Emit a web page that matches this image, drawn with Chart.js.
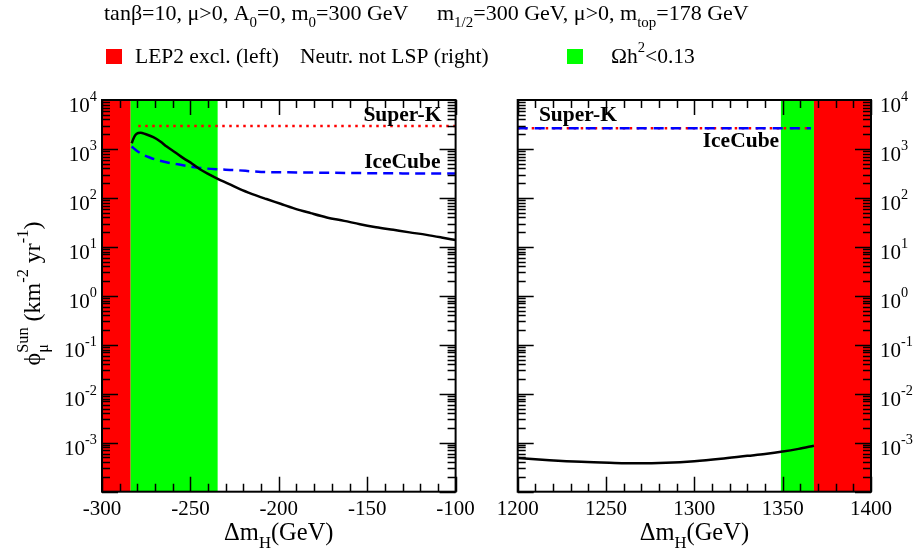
<!DOCTYPE html>
<html><head><meta charset="utf-8">
<script src="https://cdn.jsdelivr.net/npm/chart.js@4/dist/chart.umd.min.js"></script>
<style>
html,body{margin:0;padding:0;background:#fff;width:914px;height:557px;overflow:hidden;}
#wrap{position:relative;width:914px;height:557px;}
canvas{position:absolute;left:0;top:0;}
</style></head>
<body><div id="wrap"><canvas id="cl" width="914" height="557"></canvas><canvas id="cr" width="914" height="557"></canvas></div>
<script>
// ---------- data ----------
const leftDeltaM   = [-283.2, -282.3, -281, -279.5, -278.1, -275.5, -271.0, -267, -263.4, -258.5, -254.0, -249, -244.6, -240, -235.1, -228, -222.0, -215, -207, -199, -191.8, -182, -172.9, -163, -154.1, -145, -135.2, -126, -116.4, -108, -100];
const leftFlux     = [1306, 1600, 1950, 2120, 2150, 2020, 1740, 1420, 1120, 850, 650, 500, 385, 310, 252, 192, 151, 120, 95, 76, 62, 49, 40, 34, 29, 25.3, 22.3, 19.8, 17.6, 15.6, 13.8];
const leftIceX     = [-283.2, -280, -276.6, -273, -269, -263, -257.7, -251, -244.6, -235, -225.7, -210, -190, -170, -150, -130, -100];
const leftIceFlux  = [1120, 900, 760, 670, 597, 530, 490, 445, 410, 385, 372, 340, 332, 326, 321, 317, 314];
const leftSKX      = [-279.5, -100];
const leftSKFlux   = [2950, 2950];
const rightDeltaM  = [1200, 1218, 1236, 1252, 1268, 1284, 1300, 1315, 1330, 1340, 1350, 1359, 1367.7];
const rightFlux    = [4.87e-4, 4.4e-4, 4.07e-4, 3.9e-4, 3.8e-4, 3.9e-4, 4.2e-4, 4.7e-4, 5.4e-4, 5.9e-4, 6.6e-4, 7.5e-4, 8.7e-4];
const rightLimX    = [1200, 1366];
const rightSKFlux  = [2650, 2650];
const rightIceFlux = [2650, 2650];
const leftLEP2     = [-300, -283.8];
const leftOmega    = [-283.8, -234.6];
const rightOmega   = [1349, 1367.7];
const rightNotLSP  = [1367.7, 1400];
const leftXTicks   = [-300, -250, -200, -150, -100];
const rightXTicks  = [1200, 1250, 1300, 1350, 1400];
const yTickExps    = [-3, -2, -1, 0, 1, 2, 3, 4];

// ---------- drawing helpers ----------
const FAM = "'Liberation Serif','Times New Roman',serif";
function rich(ctx, x, y, segs, align, size, weight, supK) {
  const small = size * 0.68, sk = supK || 0.45;
  let w = 0, prevStart = 0, prevW = 0; const items = [];
  for (const [t, k] of segs) {
    const fs = k === 0 ? size : small;
    ctx.font = (weight || '') + ' ' + fs + 'px ' + FAM;
    const tw = ctx.measureText(t).width;
    let dx, dy = k === 1 ? size * 0.32 : (k >= 2 ? -size * sk : 0);
    if (k === 3) { dx = prevStart; w = prevStart + Math.max(prevW, tw); }
    else { dx = w; w += tw; }
    items.push({ t, fs, dx, dy }); prevStart = dx; prevW = tw;
  }
  const x0 = align === 'right' ? x - w : align === 'center' ? x - w / 2 : x;
  ctx.textAlign = 'left'; ctx.textBaseline = 'alphabetic';
  for (const it of items) { ctx.font = (weight || '') + ' ' + it.fs + 'px ' + FAM; ctx.fillText(it.t, x0 + it.dx, y + it.dy); }
  return w;
}
function pts(xs, ys) { return xs.map((x, i) => ({ x, y: ys[i] })); }

function framePlugin(c) {
  return {
    id: 'frame' + c.id,
    beforeDatasetsDraw(chart) {
      const { ctx, chartArea: a, scales: { x } } = chart;
      ctx.save();
      for (const b of c.bands) {
        const x0 = x.getPixelForValue(b.range[0]), x1 = x.getPixelForValue(b.range[1]);
        ctx.fillStyle = b.color; ctx.fillRect(x0, a.top, x1 - x0, a.bottom - a.top);
      }
      ctx.restore();
    },
    afterDatasetsDraw(chart) {
      const { ctx, chartArea: a, scales: { x, y } } = chart;
      ctx.save();
      ctx.strokeStyle = '#000'; ctx.fillStyle = '#000'; ctx.lineWidth = 1.5;
      ctx.beginPath();
      for (let v = c.xmin; v <= c.xmax + 1e-6; v += 10) {
        const px = Math.round(x.getPixelForValue(v)) + 0.5;
        const L = (Math.round(v) % 50 === 0) ? 15 : 8;
        ctx.moveTo(px, a.bottom); ctx.lineTo(px, a.bottom - L);
        ctx.moveTo(px, a.top); ctx.lineTo(px, a.top + L);
      }
      for (let e = -4; e <= 3; e++) {
        for (let m = 1; m <= 9; m++) {
          const py = Math.round(y.getPixelForValue(m * Math.pow(10, e))) + 0.5;
          const L = m === 1 ? 16 : 8;
          ctx.moveTo(a.left, py); ctx.lineTo(a.left + L, py);
          ctx.moveTo(a.right, py); ctx.lineTo(a.right - L, py);
        }
      }
      ctx.stroke();
      ctx.lineWidth = 2;
      ctx.strokeRect(a.left, a.top, a.right - a.left, a.bottom - a.top);
      for (const v of c.xTicks) {
        ctx.font = '21px ' + FAM; ctx.textAlign = 'center'; ctx.textBaseline = 'alphabetic';
        ctx.fillText(String(v), x.getPixelForValue(v), a.bottom + 23);
      }
      for (const e of yTickExps) {
        const py = y.getPixelForValue(Math.pow(10, e));
        if (c.labelSide === 'left') rich(ctx, a.left - 5, py + 12, [['10', 0], [String(e), 2]], 'right', 21, '', 0.52);
        else rich(ctx, a.right + 9, py + 12, [['10', 0], [String(e), 2]], 'left', 21, '', 0.52);
      }
      rich(ctx, (a.left + a.right) / 2, 540, [['\u0394m', 0], ['H', 1], ['(GeV)', 0]], 'center', 24.5);
      for (const t of c.notes) {
        ctx.font = 'bold 21.5px ' + FAM; ctx.textAlign = t.align; ctx.textBaseline = 'middle';
        ctx.fillText(t.text, x.getPixelForValue(t.x), y.getPixelForValue(t.y));
      }
      if (c.header) {
        rich(ctx, 104, 19.5, [['tan\u03b2=10, \u03bc>0, A', 0], ['0', 1], ['=0, m', 0], ['0', 1], ['=300 GeV', 0]], 'left', 22);
        rich(ctx, 437, 19.5, [['m', 0], ['1/2', 1], ['=300 GeV, \u03bc>0, m', 0], ['top', 1], ['=178 GeV', 0]], 'left', 22);
        ctx.fillStyle = '#ff0000'; ctx.fillRect(106, 49, 16, 15);
        ctx.fillStyle = '#00ff00'; ctx.fillRect(567, 49, 16, 15);
        ctx.fillStyle = '#000';
        rich(ctx, 135, 62.5, [['LEP2 excl. (left)', 0]], 'left', 21.5);
        rich(ctx, 300, 62.5, [['Neutr. not LSP (right)', 0]], 'left', 21.5);
        rich(ctx, 611, 62.5, [['\u03a9h', 0], ['2', 2], ['<0.13', 0]], 'left', 21.5, '', 0.5);
        ctx.save();
        ctx.translate(40, 293.5); ctx.rotate(-Math.PI / 2);
        rich(ctx, 0, 0, [['\u03d5', 0], ['\u03bc', 1], ['Sun', 3], [' (km', 0], ['-2', 2], [' yr', 0], ['-1', 2], [')', 0]], 'center', 24, '', 0.5);
        ctx.restore();
      }
      ctx.restore();
    }
  };
}

function ds(xs, ys, color, width, dash, order) {
  return { data: pts(xs, ys), borderColor: color, borderWidth: width, borderDash: dash, fill: false,
           pointRadius: 0, cubicInterpolationMode: 'monotone', order: order, borderCapStyle: 'butt' };
}

function makeChart(id, c) {
  return new Chart(document.getElementById(id), {
    type: 'line',
    data: { datasets: c.datasets },
    options: {
      responsive: false, animation: false, devicePixelRatio: 1,
      layout: { padding: c.padding },
      plugins: { legend: { display: false }, tooltip: { enabled: false }, title: { display: false } },
      scales: {
        x: { type: 'linear', min: c.xmin, max: c.xmax, display: false },
        y: { type: 'logarithmic', min: 1e-4, max: 1e4, display: false }
      }
    },
    plugins: [framePlugin(c)]
  });
}

makeChart('cl', {
  id: 'L', xmin: -300, xmax: -100, xTicks: leftXTicks, labelSide: 'left', header: true,
  padding: { left: 102, right: 458.4, top: 100, bottom: 65.3 },
  bands: [{ range: leftLEP2, color: '#ff0000' }, { range: leftOmega, color: '#00ff00' }],
  notes: [{ text: 'Super-K', x: -108, y: 4940, align: 'right' }, { text: 'IceCube', x: -108.5, y: 525, align: 'right' }],
  datasets: [
    ds(leftDeltaM, leftFlux, '#000', 2.5, [], 0),
    ds(leftIceX, leftIceFlux, '#0000ff', 2.5, [10, 6], 1),
    ds(leftSKX, leftSKFlux, '#ff0000', 2.5, [2.5, 4.5], 2)
  ]
});
makeChart('cr', {
  id: 'R', xmin: 1200, xmax: 1400, xTicks: rightXTicks, labelSide: 'right', header: false,
  padding: { left: 517.7, right: 43, top: 100, bottom: 65.3 },
  bands: [{ range: rightOmega, color: '#00ff00' }, { range: rightNotLSP, color: '#ff0000' }],
  notes: [{ text: 'Super-K', x: 1212, y: 4940, align: 'left' }, { text: 'IceCube', x: 1348, y: 1410, align: 'right' }],
  datasets: [
    ds(rightDeltaM, rightFlux, '#000', 2.5, [], 0),
    ds(rightLimX, rightIceFlux, '#0000ff', 2.5, [10, 7], 1),
    ds(rightLimX, rightSKFlux, '#ff0000', 2.5, [2.5, 4.5], 2)
  ]
});
</script></body></html>
